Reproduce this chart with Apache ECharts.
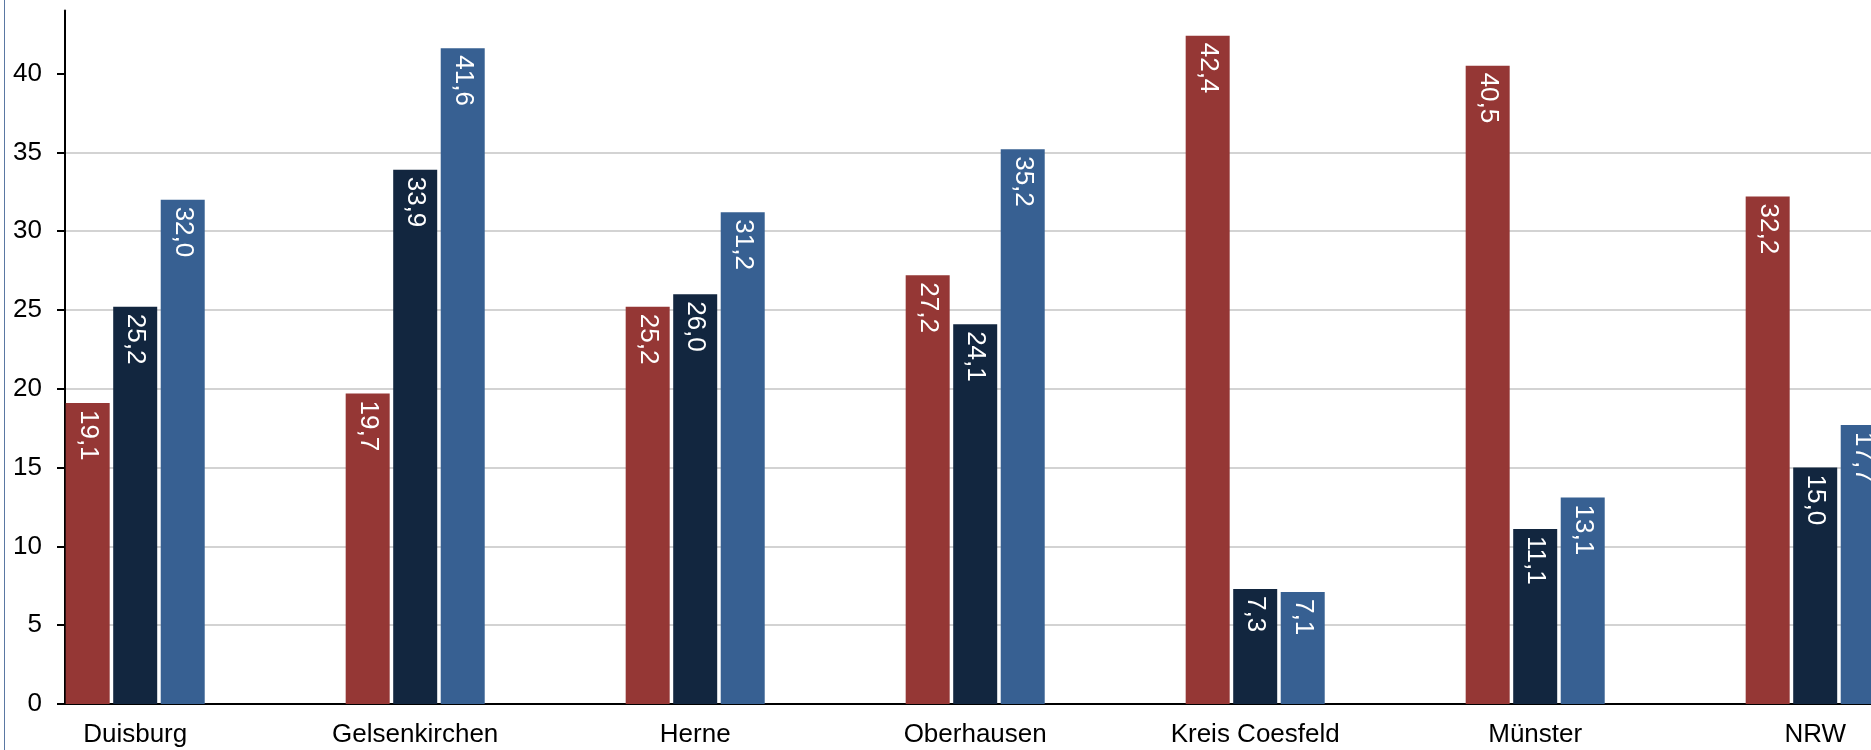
<!DOCTYPE html>
<html>
<head>
<meta charset="utf-8">
<title>Anteile nach Stadt</title>
<script src="https://cdn.jsdelivr.net/npm/echarts@6/dist/echarts.min.js"></script>
<style>
  html, body { margin: 0; padding: 0; background: #ffffff; }
  #wrap { position: relative; width: 1871px; height: 750px; }
  #chart { width: 1871px; height: 750px; }
  /* thin frame line on the left edge of the chart area */
  #frame { position: absolute; left: 4px; top: 0; width: 1px; height: 750px; background: #5a78a3; }
</style>
</head>
<body>
<div id="wrap">
  <div id="chart"></div>
  <div id="frame"></div>
</div>
<script>
// Categories (regions) and the three series values
const categories = ['Duisburg', 'Gelsenkirchen', 'Herne', 'Oberhausen', 'Kreis Coesfeld', 'Münster', 'NRW'];
const seriesRed  = [19.1, 19.7, 25.2, 27.2, 42.4, 40.5, 32.2];
const seriesNavy = [25.2, 33.9, 26.0, 24.1, 7.3, 11.1, 15.0];
const seriesBlue = [32.0, 41.6, 31.2, 35.2, 7.1, 13.1, 17.7];
const yTicks = [0, 5, 10, 15, 20, 25, 30, 35, 40];

const FONT = '"Liberation Sans", Arial, sans-serif';
const colors = ['#953735', '#12263f', '#376092'];

const fmt = (v) => v.toFixed(1).replace('.', ',');

function barSeries(name, data, color) {
  return {
    name: name,
    type: 'bar',
    xAxisIndex: 0,
    yAxisIndex: 0,
    data: data,
    barWidth: 44,
    barGap: '8%',
    itemStyle: { color: color },
    label: {
      show: true,
      position: 'insideTop',
      distance: 7,
      rotate: -90,
      align: 'left',
      verticalAlign: 'middle',
      color: '#ffffff',
      fontSize: 26,
      fontFamily: FONT,
      formatter: (p) => fmt(p.value)
    }
  };
}

const chart = echarts.init(document.getElementById('chart'), null, { renderer: 'canvas' });
chart.setOption({
  animation: false,
  backgroundColor: '#ffffff',
  grid: [
    // grid 0: bar bands (wider than the visible plot)
    { left: -4.8, right: -84.2, top: 10.5, bottom: 46, containLabel: false, outerBoundsMode: 'none' },
    // grid 1: visible axes and gridlines
    { left: 65, right: 0, top: 10.5, bottom: 46, containLabel: false, outerBoundsMode: 'none' }
  ],
  xAxis: [
    {
      type: 'category',
      gridIndex: 0,
      data: categories,
      axisLine: { show: false },
      axisTick: { show: false },
      axisLabel: {
        interval: 0,
        margin: 18,
        color: '#000000',
        fontSize: 26,
        fontFamily: FONT
      }
    },
    {
      type: 'value',
      gridIndex: 1,
      min: 0,
      max: 1,
      axisLine: { show: true, lineStyle: { color: '#000000', width: 2 } },
      axisTick: { show: false },
      axisLabel: { show: false },
      splitLine: { show: false }
    }
  ],
  yAxis: [
    {
      type: 'value',
      gridIndex: 0,
      min: 0,
      max: 44,
      interval: 5,
      show: false,
      splitLine: { show: false }
    },
    {
      type: 'value',
      gridIndex: 1,
      min: 0,
      max: 44,
      interval: 5,
      axisLine: { show: true, lineStyle: { color: '#000000', width: 2 } },
      axisTick: {
        show: true,
        inside: false,
        length: 8,
        customValues: yTicks,
        lineStyle: { color: '#000000', width: 2 }
      },
      axisLabel: {
        margin: 23,
        color: '#000000',
        fontSize: 26,
        fontFamily: FONT,
        customValues: yTicks
      },
      splitLine: {
        show: true,
        showMinLine: false,
        showMaxLine: false,
        lineStyle: { color: '#c4c4c4', width: 1.5 }
      }
    }
  ],
  series: [
    barSeries('Reihe 1', seriesRed, colors[0]),
    barSeries('Reihe 2', seriesNavy, colors[1]),
    barSeries('Reihe 3', seriesBlue, colors[2])
  ]
});
</script>
</body>
</html>
